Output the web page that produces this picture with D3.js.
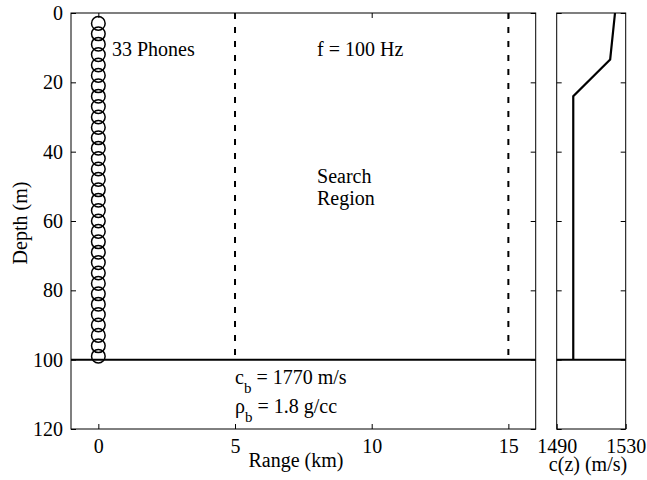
<!DOCTYPE html>
<html>
<head>
<meta charset="utf-8">
<script src="https://cdn.jsdelivr.net/npm/d3@7"></script>
</head>
<body style="margin:0">
<svg id="chart" width="647" height="480" font-family="Times New Roman" font-size="20"></svg>
<script>
// Hydrophone array: all at range 0 km, depths in metres
const phoneDepths = [3, 6, 9, 12, 15, 18, 21, 24, 27, 30, 33, 36, 39, 42, 45, 48, 51,
  54, 57, 60, 63, 66, 69, 72, 75, 78, 81, 84, 87, 90, 93, 96, 99];
const phoneRange = 0;

// Search region boundaries (km)
const searchBounds = [5, 15];

// Water depth (m)
const bottomDepth = 100;

// Sound speed profile
const profileDepths = [0, 13.4, 24, 100];
const profileSpeeds = [1523.8, 1521, 1499.6, 1499.6];

// Axis ticks
const rangeTicks = [0, 5, 10, 15];
const depthTicks = [0, 20, 40, 60, 80, 100, 120];
const speedTicks = [1490, 1530];

const svg = d3.select("#chart");
const FAMILY = "Times New Roman";

// Panel geometry
const plotTop = 13, plotBottom = 429;
const mainBox = { left: 71, right: 535.7 };
const sideBox = { left: 556.7, right: 625.7 };

const x = d3.scaleLinear().domain([-1, 16]).range([mainBox.left, mainBox.right]);
const y = d3.scaleLinear().domain([0, 120]).range([plotTop, plotBottom]);
const xs = d3.scaleLinear().domain([1490, 1530]).range([sideBox.left, sideBox.right]);

function styleAxis(g, showLabels) {
  // let tick labels inherit the serif face from the svg root
  g.attr("font-family", FAMILY).attr("font-size", 20);
  g.select(".domain").remove();
  g.selectAll(".tick line").attr("stroke", "#000").attr("stroke-width", 1);
  g.selectAll(".tick text").attr("fill", "#000");
  if (!showLabels) g.selectAll(".tick text").remove();
}

// ---------- main panel ----------
const gm = svg.append("g");

gm.append("g").attr("transform", `translate(0,${plotBottom})`)
  .call(d3.axisBottom(x).tickValues(rangeTicks).tickSizeInner(-5).tickSizeOuter(0).tickPadding(10))
  .call(g => styleAxis(g, true));
gm.append("g").attr("transform", `translate(0,${plotTop})`)
  .call(d3.axisTop(x).tickValues(rangeTicks).tickSizeInner(-5).tickSizeOuter(0))
  .call(g => styleAxis(g, false));
gm.append("g").attr("transform", `translate(${mainBox.left},0)`)
  .call(d3.axisLeft(y).tickValues(depthTicks).tickSizeInner(-5).tickSizeOuter(0).tickPadding(8))
  .call(g => styleAxis(g, true));
gm.append("g").attr("transform", `translate(${mainBox.right},0)`)
  .call(d3.axisRight(y).tickValues(depthTicks).tickSizeInner(-5).tickSizeOuter(0))
  .call(g => styleAxis(g, false));

// search region boundaries
gm.selectAll("line.bound").data(searchBounds).join("line")
  .attr("class", "bound")
  .attr("x1", d => x(d)).attr("x2", d => x(d))
  .attr("y1", y(0)).attr("y2", y(bottomDepth))
  .attr("stroke", "#000").attr("stroke-width", 2).attr("stroke-dasharray", "6,8");

// sea floor
gm.append("line")
  .attr("x1", mainBox.left).attr("x2", mainBox.right)
  .attr("y1", y(bottomDepth)).attr("y2", y(bottomDepth))
  .attr("stroke", "#000").attr("stroke-width", 2);

// phones
gm.selectAll("circle.phone").data(phoneDepths).join("circle")
  .attr("class", "phone")
  .attr("cx", x(phoneRange)).attr("cy", d => y(d)).attr("r", 6.8)
  .attr("fill", "none").attr("stroke", "#000").attr("stroke-width", 1.5);

// frame
gm.append("rect").attr("x", mainBox.left).attr("y", plotTop)
  .attr("width", mainBox.right - mainBox.left).attr("height", plotBottom - plotTop)
  .attr("fill", "none").attr("stroke", "#000").attr("stroke-width", 1);

// annotations
const txt = (px, py, s) => gm.append("text").attr("x", px).attr("y", py)
  .attr("font-family", FAMILY).attr("font-size", 20).text(s);
txt(x(0.5), 56, "33 Phones");
txt(x(8), 56, "f = 100 Hz");
txt(x(8), 183, "Search");
txt(x(8), 205, "Region");

function subLabel(py, sym, rest) {
  const t = gm.append("text").attr("x", x(5)).attr("y", py)
    .attr("font-family", FAMILY).attr("font-size", 20);
  t.append("tspan").text(sym);
  t.append("tspan").attr("font-size", 15).attr("dy", 9).text("b");
  t.append("tspan").attr("dy", -9).text(" = " + rest);
}
subLabel(384, "c", "1770 m/s");
subLabel(413, "\u03c1", "1.8 g/cc");

// axis titles
gm.append("text").attr("x", 296).attr("y", 467).attr("text-anchor", "middle")
  .attr("font-family", FAMILY).attr("font-size", 20).text("Range (km)");
gm.append("text").attr("transform", "translate(27,223) rotate(-90)")
  .attr("text-anchor", "middle").attr("font-family", FAMILY).attr("font-size", 20).text("Depth (m)");

// ---------- sound speed panel ----------
const gs = svg.append("g");
gs.append("g").attr("transform", `translate(0,${plotBottom})`)
  .call(d3.axisBottom(xs).tickValues(speedTicks).tickSizeInner(-5).tickSizeOuter(0).tickPadding(10)
    .tickFormat(d3.format("d")))
  .call(g => styleAxis(g, true));
gs.append("g").attr("transform", `translate(${sideBox.left},0)`)
  .call(d3.axisLeft(y).tickValues(depthTicks).tickSizeInner(-5).tickSizeOuter(0))
  .call(g => styleAxis(g, false));
gs.append("g").attr("transform", `translate(${sideBox.right},0)`)
  .call(d3.axisRight(y).tickValues(depthTicks).tickSizeInner(-5).tickSizeOuter(0))
  .call(g => styleAxis(g, false));

const profile = profileDepths.map((d, i) => [profileSpeeds[i], d]);
gs.append("path")
  .attr("d", d3.line().x(p => xs(p[0])).y(p => y(p[1]))(profile))
  .attr("fill", "none").attr("stroke", "#000").attr("stroke-width", 2.2);

gs.append("line")
  .attr("x1", sideBox.left).attr("x2", sideBox.right)
  .attr("y1", y(bottomDepth)).attr("y2", y(bottomDepth))
  .attr("stroke", "#000").attr("stroke-width", 2);

gs.append("rect").attr("x", sideBox.left).attr("y", plotTop)
  .attr("width", sideBox.right - sideBox.left).attr("height", plotBottom - plotTop)
  .attr("fill", "none").attr("stroke", "#000").attr("stroke-width", 1);

gs.append("text").attr("x", 588).attr("y", 471).attr("text-anchor", "middle")
  .attr("font-family", FAMILY).attr("font-size", 20).text("c(z) (m/s)");
</script>
</body>
</html>
